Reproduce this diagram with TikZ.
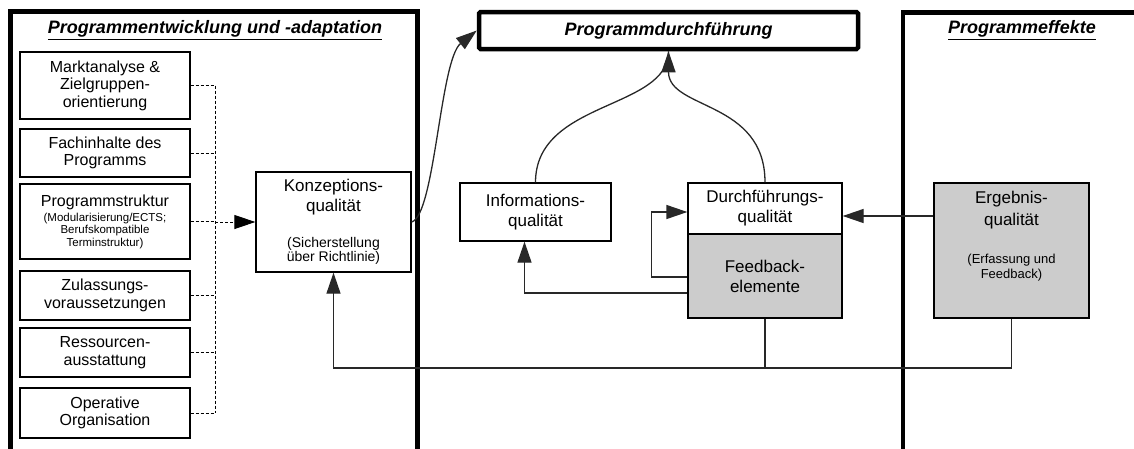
\documentclass[tikz,border=0pt]{standalone}
\usepackage{fontspec}
\setmainfont{Liberation Sans}
\usetikzlibrary{arrows.meta}
\definecolor{boxgray}{RGB}{204,204,204}
\definecolor{linegray}{RGB}{40,40,40}
\begin{document}
\begin{tikzpicture}[x=1pt,y=-1pt,
  box/.style={draw, line width=1.3pt, fill=white, align=center, inner sep=0pt},
  lbox/.style={box, minimum width=170pt, font=\fontsize{16}{17.5}\selectfont},
  mbox/.style={box, font=\fontsize{17}{20}\selectfont},
  frame/.style={line width=4.5pt},
  title/.style={font=\fontsize{18}{20}\selectfont\bfseries\itshape, inner sep=0pt},
  tip/.style={-{Triangle[length=21pt,width=14pt]}},
  conn/.style={line width=1.3pt, draw=linegray, tip},
  plain/.style={line width=1.3pt, draw=linegray},
  dashline/.style={line width=1pt, dash pattern=on 3pt off 2pt}
]
\useasboundingbox (0,0) rectangle (1134,448);

% frames
\draw[frame] (10.5,470) -- (10.5,11.5) -- (417.5,11.5) -- (417.5,470);
\draw[frame] (903,470) -- (903,12.5) -- (1160,12.5);

% titles
\node[title] (t1) at (215,30) {\underline{Programmentwicklung und -adaptation}};
\node[title] (t3) at (1022,30) {\underline{Programmeffekte}};
\node[draw, line width=4.5pt, rounded corners=1.5pt, minimum width=379pt, minimum height=37pt, title] (pd) at (668.5,30.5) {Programmdurchführung};

% left boxes
\node[lbox, minimum height=67pt] (m1) at (105,85.5) {Marktanalyse \&\\Zielgruppen-\\orientierung};
\node[lbox, minimum height=48pt] (m2) at (105,153) {Fachinhalte des\\Programms};
\node[lbox, minimum height=75pt] (m3) at (105,221.5) {Programmstruktur\\[-2.5pt]{\fontsize{11.5}{12.5}\selectfont (Modularisierung/ECTS;}\\[-5pt]{\fontsize{11.5}{12.5}\selectfont Berufskompatible}\\[-5pt]{\fontsize{11.5}{12.5}\selectfont Terminstruktur)}};
\node[lbox, minimum height=49pt] (m4) at (105,295.5) {Zulassungs-\\voraussetzungen};
\node[lbox, minimum height=49pt] (m5) at (105,352.5) {Ressourcen-\\ausstattung};
\node[lbox, minimum height=50pt] (m6) at (105,413) {Operative\\Organisation};

% Konzeptionsqualitaet
\node[mbox, minimum width=155pt, minimum height=100pt] (konz) at (333.5,222) {Konzeptions-\\qualität\\[16pt]{\fontsize{14}{15}\selectfont (Sicherstellung}\\[-5.5pt]{\fontsize{14}{15}\selectfont über Richtlinie)}};

% middle boxes
\node[mbox, minimum width=151pt, minimum height=58pt] (info) at (535.5,212) {Informations-\\qualität};
\node[mbox, minimum width=154pt, minimum height=51pt] (durch) at (765,208.5) {Durchführungs-\\qualität};
\node[mbox, fill=boxgray, minimum width=154pt, minimum height=84pt] (feed) at (765,276) {Feedback-\\elemente};

% Ergebnisqualitaet
\node[box, fill=boxgray, minimum width=155pt, minimum height=135pt] (erg) at (1011.5,250.5) {};
\node[align=center, inner sep=0pt, font=\fontsize{17}{20}\selectfont] (ergt) at (1011.5,236) {Ergebnis-\\[2pt]qualität\\[18pt]{\fontsize{13}{14}\selectfont (Erfassung und}\\[-5pt]{\fontsize{13}{14}\selectfont Feedback)}};

% dashed collectors
\coordinate (sp) at (215,0);
\foreach \n in {m1,m2,m3,m4,m5,m6} \draw[dashline] (\n.east) -- (\n.east -| sp);
\draw[dashline] (m1.east -| sp) -- (m6.east -| sp);
\draw[dashline, tip] (sp |- konz.west) -- (konz.west);

% Konzeption -> Durchfuehrung
\draw[conn] (konz.east) .. controls (435,215) and (440,60) .. (pd.west);

% quality -> Programmdurchfuehrung
\draw[plain] (info.north) .. controls (535.5,100) and (668.5,110) .. (pd.south);
\draw[conn] (durch.north) .. controls (765,100) and (668.5,110) .. (pd.south);

% feedback loops
\draw[conn] ([yshift=-1pt]feed.west) -- ++(-36,0) |- ([yshift=-3.5pt]durch.west);
\draw[conn] ([yshift=-17pt]feed.west) -| ([xshift=-11pt]info.south);

% Ergebnis -> Durchfuehrung
\coordinate (ea) at ([yshift=-7.5pt]durch.east);
\draw[conn] (erg.west |- ea) -- (ea);

% bottom feedback line
\coordinate (b) at (333.5,368);
\draw[conn] (erg.south) |- (b) -- (konz.south);
\draw[plain] (feed.south) -- (feed.south |- b);
\end{tikzpicture}
\end{document}
